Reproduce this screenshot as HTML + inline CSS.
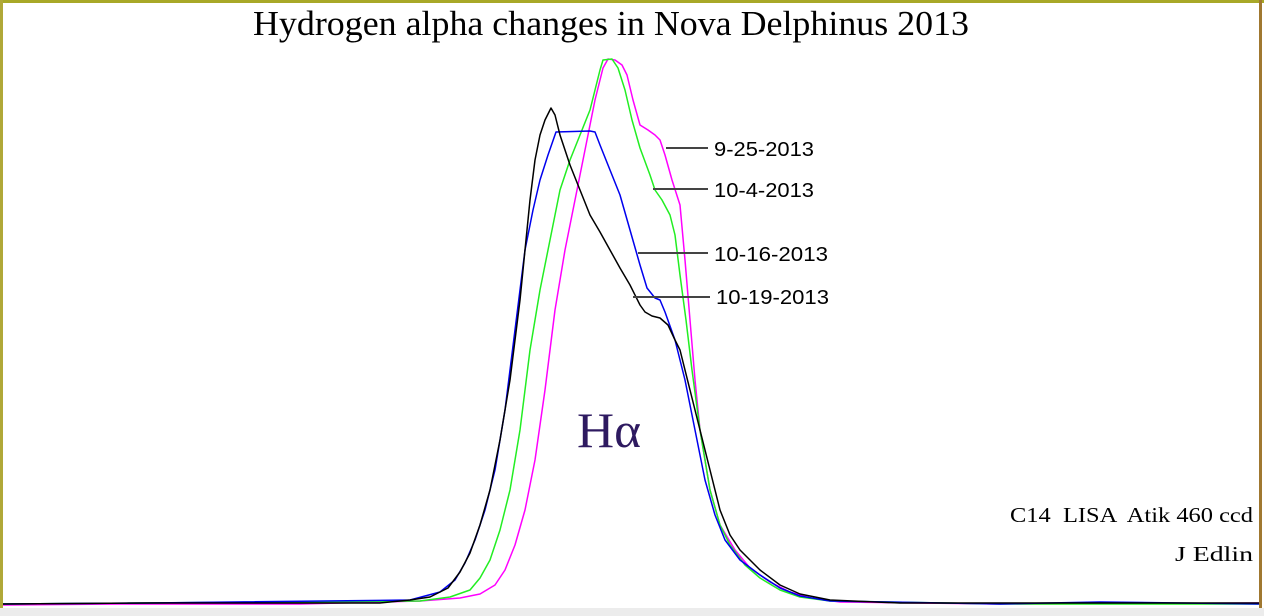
<!DOCTYPE html>
<html><head><meta charset="utf-8"><style>
html,body{margin:0;padding:0;background:#fff}
svg{display:block}
</style></head><body>
<svg width="1264" height="616" viewBox="0 0 1264 616" xmlns="http://www.w3.org/2000/svg">
<rect x="0" y="0" width="1264" height="616" fill="#fff"/>
<rect x="0" y="608" width="1264" height="8" fill="#ececec"/>
<rect x="0" y="0" width="1264" height="3" fill="#a8a828"/>
<rect x="0" y="0" width="3" height="608" fill="#b0a838"/>
<rect x="1259" y="0" width="3" height="608" fill="#a07830"/>
<g fill="none" stroke-width="1.5" stroke-linejoin="round">
<polyline stroke="#ff00ff" points="3,605 120,604 300,604 420,601 460,598 480,594 495,585 505,570 515,545 525,510 535,460 545,390 555,310 565,250 575,200 585,150 595,100 603,68 608,59 615,60 622,65 627,75 633,100 640,125 648,130 655,135 660,140 665,155 672,180 680,205 685,260 690,320 695,380 700,430 710,490 720,525 735,550 750,568 770,582 790,592 810,598 840,602 1000,604 1259,603"/>
<polyline stroke="#22ee22" points="3,604 420,601 450,597 470,590 480,578 490,560 500,530 510,490 520,430 530,350 540,290 550,240 560,190 570,160 580,135 590,110 600,70 603,60 612,59 618,68 625,90 632,120 640,148 650,175 655,190 662,200 670,215 675,235 680,275 686,320 692,370 700,430 710,490 720,525 730,545 745,565 760,578 780,590 800,597 830,601 1000,604 1259,604"/>
<polyline stroke="#0000ee" points="3,604 150,603 410,600 440,592 455,580 465,563 475,540 485,510 495,470 505,410 515,330 525,250 533,210 540,180 548,155 556,132 590,131 595,132 600,145 610,170 620,195 630,230 640,265 647,288 655,298 660,300 665,312 675,340 685,380 695,430 705,480 715,515 725,540 740,560 760,575 780,588 800,596 830,601 1000,604 1100,602 1259,604"/>
<polyline stroke="#000" points="3,604 150,603 300,603 380,603 410,600 430,597 448,588 460,572 470,553 480,525 490,490 500,440 510,380 520,300 530,200 535,160 540,135 545,120 551,108 555,115 560,135 570,165 580,190 590,215 600,232 610,250 620,268 630,285 640,305 645,312 652,316 660,318 668,325 675,340 680,350 690,390 700,430 710,470 720,510 730,535 740,550 760,570 780,585 800,594 830,600 900,603 1259,603"/>
</g>
<g stroke="#444" stroke-width="2">
<line x1="666" y1="148" x2="708" y2="148"/>
<line x1="653" y1="189" x2="708" y2="189"/>
<line x1="638" y1="253" x2="708" y2="253"/>
<line x1="633" y1="297" x2="710" y2="297"/>
</g>
<g font-family="Liberation Sans, sans-serif" font-size="20" fill="#000" transform="translate(0,0)">
<text x="714" y="156" textLength="100" lengthAdjust="spacingAndGlyphs">9-25-2013</text>
<text x="714" y="197" textLength="100" lengthAdjust="spacingAndGlyphs">10-4-2013</text>
<text x="714" y="261" textLength="114" lengthAdjust="spacingAndGlyphs">10-16-2013</text>
<text x="716" y="304" textLength="113" lengthAdjust="spacingAndGlyphs">10-19-2013</text>
</g>
<text x="253" y="35" textLength="716" lengthAdjust="spacingAndGlyphs" font-family="Liberation Serif, serif" font-size="35" fill="#000">Hydrogen alpha changes in Nova Delphinus 2013</text>
<text x="577" y="447" textLength="64" lengthAdjust="spacingAndGlyphs" font-family="Liberation Serif, serif" font-size="50" fill="#2e1a60">Hα</text>
<g font-family="Liberation Serif, serif" font-size="21" fill="#000">
<text x="1010" y="522" textLength="243" lengthAdjust="spacingAndGlyphs" xml:space="preserve">C14  LISA  Atik 460 ccd</text>
<text x="1175" y="561" textLength="78" lengthAdjust="spacingAndGlyphs">J Edlin</text>
</g>
</svg>
</body></html>
